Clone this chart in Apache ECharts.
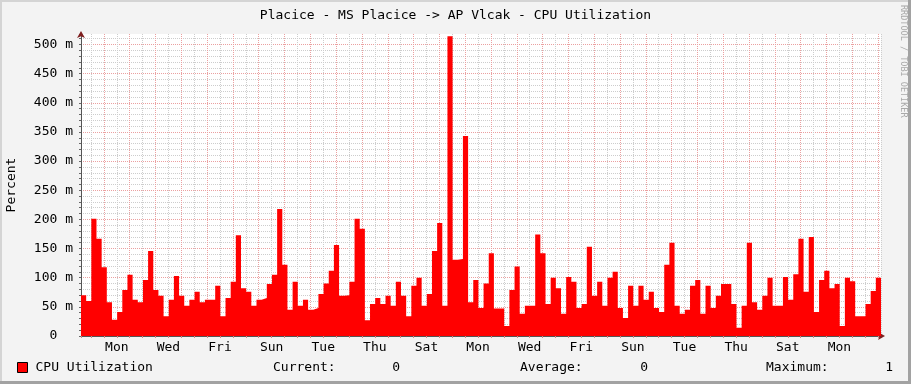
<!DOCTYPE html>
<html><head><meta charset="utf-8">
<script src="https://cdn.jsdelivr.net/npm/echarts@6/dist/echarts.min.js"></script>
<style>html,body{margin:0;padding:0;background:#f3f3f3;} #c{width:911px;height:384px;}</style>
</head><body><div id="c"></div>
<script>
const titleText = 'Placice - MS Placice -> AP Vlcak - CPU Utilization';
const seriesName = 'CPU Utilization';
// CPU utilisation per consolidation step (value in milli, i.e. "m")
const cpuValues = [
  70, 60, 201, 167, 118, 58, 28, 41, 79, 105,
  62, 58, 96, 146, 79, 69, 34, 62, 103, 69,
  52, 62, 76, 58, 62, 62, 86, 34, 65, 93,
  173, 82, 76, 52, 62, 65, 89, 105, 218, 122,
  45, 93, 52, 62, 45, 48, 72, 90, 112, 156,
  69, 70, 93, 201, 184, 27, 55, 65, 55, 69,
  52, 93, 69, 34, 86, 100, 52, 72, 146, 194,
  52, 514, 131, 132, 343, 58, 96, 48, 90, 142,
  47, 47, 17, 79, 119, 38, 52, 52, 174, 142,
  55, 100, 82, 38, 101, 93, 48, 55, 153, 69,
  93, 52, 100, 110, 48, 31, 86, 52, 86, 62,
  76, 48, 41, 122, 160, 52, 38, 45, 86, 96,
  38, 86, 48, 69, 89, 89, 55, 14, 52, 160,
  58, 45, 69, 100, 52, 52, 101, 62, 106, 167,
  76, 170, 41, 96, 112, 82, 89, 17, 100, 94,
  34, 34, 55, 77, 100
];
// time axis in days, 0 = first Monday 00:00
const startDay = -0.887;
const endDay = 30.113;
const stepDays = 0.2;
const dayLabelPositions = [0.5, 2.5, 4.5, 6.5, 8.5, 10.5, 12.5, 14.5, 16.5, 18.5, 20.5, 22.5, 24.5, 26.5, 28.5];
const dayLabels = ['Mon','Wed','Fri','Sun','Tue','Thu','Sat','Mon','Wed','Fri','Sun','Tue','Thu','Sat','Mon'];
const yMax = 518;
const legendLabels = ['Current:', 'Average:', 'Maximum:'];
const legendValues = ['0', '0', '1'];
const watermark = 'RRDTOOL / TOBI OETIKER';

const FONT = '"DejaVu Sans Mono", monospace';
const FAM = 'DejaVu Sans Mono';
const MAJOR = '#eba0a0';
const MINOR = '#cdcdcd';

const seriesData = cpuValues.map((v, i) => [startDay + i * stepDays, v]);
seriesData.push([endDay, cpuValues[cpuValues.length - 1]]);

const chart = echarts.init(document.getElementById('c'), null, {renderer: 'canvas'});
const option = {
  animation: false,
  backgroundColor: '#f3f3f3',
  textStyle: {fontFamily: FAM},
  title: {
    text: titleText, left: 'center', top: 4,
    textStyle: {fontFamily: FAM, fontSize: 13, fontWeight: 'normal', color: '#000'}
  },
  legend: {
    data: [seriesName], left: 17, top: 361, padding: 0, icon: 'rect',
    itemWidth: 10, itemHeight: 10, selectedMode: false,
    itemStyle: {color: '#ff0000', borderColor: '#000', borderWidth: 1},
    textStyle: {fontFamily: FAM, fontSize: 13, color: '#000', padding: [0, 0, 0, 3]}
  },
  grid: {left: 81, right: 30, top: 34, bottom: 48, show: true, backgroundColor: '#ffffff', borderWidth: 0,
    containLabel: false, outerBoundsMode: 'none'},
  xAxis: [{
    type: 'value', min: startDay, max: endDay, splitNumber: 62,
    axisLine: {onZero: false, lineStyle: {color: '#555', width: 1}},
    axisTick: {show: true, length: 2, lineStyle: {color: '#d08a8a'}},
    axisLabel: {
      margin: 5, fontFamily: FAM, fontSize: 13, color: '#000',
      showMinLabel: true, showMaxLabel: true,
      formatter: function (v) {
        for (let k = 0; k < dayLabelPositions.length; k++) {
          if (Math.abs(v - dayLabelPositions[k]) < 1e-6) return dayLabels[k];
        }
        return '';
      }
    },
    splitLine: {show: true, lineStyle: {color: [MAJOR, MINOR], type: [1, 1], width: 1}}
  }, {
    type: 'value', min: startDay, max: endDay, position: 'bottom',
    axisLine: {show: true, onZero: false, symbol: ['none', 'arrow'], symbolSize: [6, 7], symbolOffset: [0, 4],
      lineStyle: {color: '#7f1f1f', width: 0}},
    axisTick: {show: false}, axisLabel: {show: false}, splitLine: {show: false}
  }],
  yAxis: [{
    type: 'value', min: 0, max: yMax, interval: 10,
    name: 'Percent', nameLocation: 'middle', nameGap: 63,
    nameTextStyle: {fontFamily: FAM, fontSize: 13, color: '#000'},
    axisLine: {show: true, onZero: false, lineStyle: {color: '#555', width: 1}},
    axisTick: {show: true, length: 2, lineStyle: {color: '#666'}},
    axisLabel: {
      margin: 8, fontFamily: FAM, fontSize: 13, color: '#000',
      formatter: function (v) {
        if (v % 50 !== 0) return '';
        if (v === 0) return '0  ';
        return v + ' m';
      }
    },
    splitLine: {show: true, showMaxLine: false,
      lineStyle: {color: [MAJOR, MINOR, MINOR, MINOR, MINOR], type: [1, 1], width: 1}}
  }, {
    type: 'value', min: 0, max: yMax, position: 'left',
    axisLine: {show: true, onZero: false, symbol: ['none', 'arrow'], symbolSize: [6, 7], symbolOffset: [0, 3],
      lineStyle: {color: '#7f1f1f', width: 0}},
    axisTick: {show: false}, axisLabel: {show: false}, splitLine: {show: false}
  }],
  series: [{
    type: 'line', name: seriesName, data: seriesData, step: 'end',
    xAxisIndex: 0, yAxisIndex: 0,
    showSymbol: false, symbol: 'none', silent: true,
    lineStyle: {width: 0, color: '#ff0000'},
    itemStyle: {color: '#ff0000'},
    areaStyle: {color: '#ff0000', opacity: 1},
    z: 3
  }],
  graphic: [
    {type: 'rect', shape: {x: 0, y: 0, width: 911, height: 2}, style: {fill: '#d4d4d4'}, silent: true},
    {type: 'rect', shape: {x: 0, y: 0, width: 2, height: 384}, style: {fill: '#d4d4d4'}, silent: true},
    {type: 'rect', shape: {x: 908, y: 0, width: 3, height: 384}, style: {fill: '#a2a2a2'}, silent: true},
    {type: 'rect', shape: {x: 0, y: 381, width: 911, height: 3}, style: {fill: '#a2a2a2'}, silent: true},
    {type: 'text', x: 903, y: 5, rotation: -Math.PI / 2, silent: true,
      style: {text: watermark, font: '8.5px ' + FONT, fill: '#a8a8a8', align: 'left', verticalAlign: 'middle'}},
    {type: 'text', x: 273, y: 368, silent: true, style: {text: legendLabels[0], font: '13px ' + FONT, fill: '#000', align: 'left', verticalAlign: 'middle'}},
    {type: 'text', x: 400, y: 368, silent: true, style: {text: legendValues[0], font: '13px ' + FONT, fill: '#000', align: 'right', verticalAlign: 'middle'}},
    {type: 'text', x: 520, y: 368, silent: true, style: {text: legendLabels[1], font: '13px ' + FONT, fill: '#000', align: 'left', verticalAlign: 'middle'}},
    {type: 'text', x: 648, y: 368, silent: true, style: {text: legendValues[1], font: '13px ' + FONT, fill: '#000', align: 'right', verticalAlign: 'middle'}},
    {type: 'text', x: 766, y: 368, silent: true, style: {text: legendLabels[2], font: '13px ' + FONT, fill: '#000', align: 'left', verticalAlign: 'middle'}},
    {type: 'text', x: 893, y: 368, silent: true, style: {text: legendValues[2], font: '13px ' + FONT, fill: '#000', align: 'right', verticalAlign: 'middle'}}
  ]
};
chart.setOption(option);
</script>
</body></html>
